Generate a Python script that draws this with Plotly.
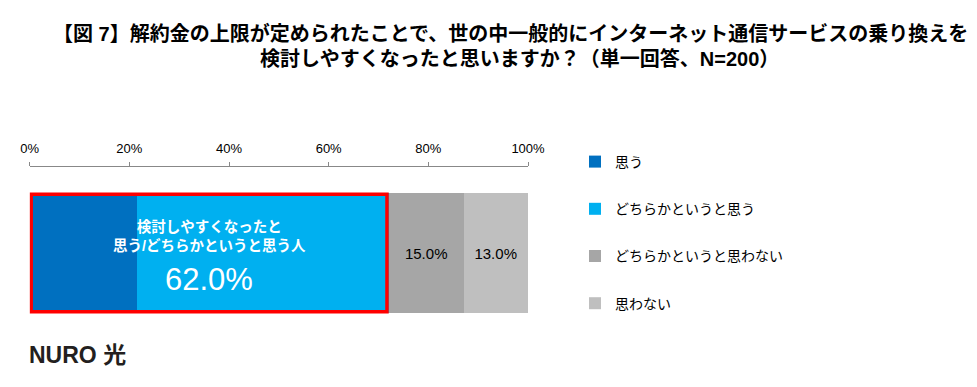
import plotly.graph_objects as go

categories = ["回答"]
series_names = ["思う", "どちらかというと思う", "どちらかというと思わない", "思わない"]
series_values = [21.5, 50.5, 15.0, 13.0]
series_colors = ["#0070C0", "#00B0F0", "#A6A6A6", "#BFBFBF"]
bar_labels = ["", "", "15.0%", "13.0%"]
tick_values = [0, 20, 40, 60, 80, 100]
tick_labels = ["0%", "20%", "40%", "60%", "80%", "100%"]
title_lines = ["【図 7】解約金の上限が定められたことで、世の中一般的にインターネット通信サービスの乗り換えを",
               "検討しやすくなったと思いますか？（単一回答、N=200）"]
combined_label_lines = ["検討しやすくなったと", "思う/どちらかというと思う人"]
combined_value_label = "62.0%"

W, H = 977, 387
FONT = "Liberation Sans, Noto Sans CJK JP, sans-serif"
bar_w = 0.70

fig = go.Figure()
for i, (name, val, col, lab) in enumerate(zip(series_names, series_values, series_colors, bar_labels)):
    fig.add_trace(go.Bar(
        y=categories, x=[val], name=name, orientation="h",
        legendgroup=f"g{i}",
        marker=dict(color=col, line=dict(width=0)),
        text=[lab], textposition="inside", insidetextanchor="middle",
        textfont=dict(size=15, color="#000000", family=FONT),
        width=bar_w, hoverinfo="skip",
    ))

agree_total = series_values[0] + series_values[1]

fig.add_shape(type="rect", xref="x", yref="y",
              x0=0.3, x1=agree_total - 0.3, y0=-bar_w / 2 + 0.008, y1=bar_w / 2 - 0.008,
              line=dict(color="#FF0000", width=3.5), fillcolor="rgba(0,0,0,0)")

fig.add_annotation(xref="x", yref="y", x=agree_total / 2, y=0.10,
                   text="<b>" + "<br>".join(combined_label_lines) + "</b>",
                   showarrow=False, font=dict(size=14.5, color="white", family=FONT),
                   align="center", yanchor="middle")
fig.add_annotation(xref="x", yref="y", x=agree_total / 2, y=-0.155,
                   text=combined_value_label,
                   showarrow=False, font=dict(size=31, color="white", family=FONT),
                   yanchor="middle")

fig.add_annotation(xref="paper", yref="paper", x=510.5 / W, y=1 - 33 / H,
                   text="<b>" + title_lines[0] + "</b>", showarrow=False,
                   font=dict(size=20, color="#000000", family=FONT), yanchor="middle")
fig.add_annotation(xref="paper", yref="paper", x=519.5 / W, y=1 - 58 / H,
                   text="<b>" + title_lines[1] + "</b>", showarrow=False,
                   font=dict(size=20, color="#000000", family=FONT), yanchor="middle")

fig.add_annotation(xref="paper", yref="paper", x=27 / W, y=1 - 355 / H,
                   text="<b>NURO</b> <b>光</b>", showarrow=False, xanchor="left",
                   font=dict(size=23, color="#231F20", family=FONT), yanchor="middle")

fig.update_layout(
    width=W, height=H, margin=dict(l=0, r=0, t=0, b=0, autoexpand=False),
    paper_bgcolor="white", plot_bgcolor="white",
    barmode="stack", bargap=0,
    font=dict(family=FONT, color="#000000"),
    showlegend=True,
    legend=dict(x=575 / W, y=1 - 146 / H, xanchor="left", yanchor="top",
                traceorder="grouped", tracegroupgap=26,
                font=dict(size=14, family=FONT, color="#000000"),
                bgcolor="rgba(0,0,0,0)"),
    xaxis=dict(domain=[29.7 / W, 528 / W], range=[0, 100], side="top",
               tickvals=tick_values, ticktext=tick_labels,
               ticks="outside", ticklen=4, tickcolor="#888888",
               showline=True, linecolor="#888888", linewidth=1,
               showgrid=False, zeroline=False, ticklabelstandoff=4,
               tickfont=dict(size=13, family=FONT, color="#000000")),
    yaxis=dict(domain=[1 - 339 / H, 1 - 167 / H], range=[-0.5, 0.5],
               showticklabels=False, showgrid=False, zeroline=False, showline=False),
)

fig.write_html("out.html")
